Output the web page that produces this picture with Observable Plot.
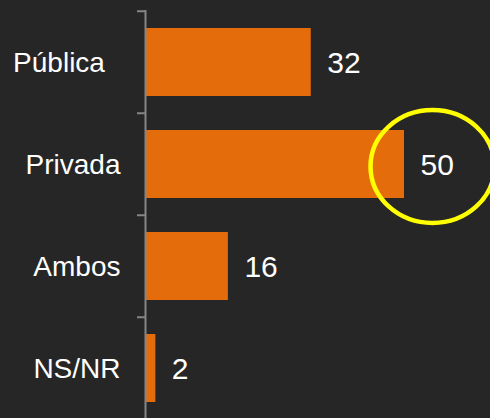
<!DOCTYPE html>
<html>
<head>
<meta charset="utf-8">
<script src="https://cdn.jsdelivr.net/npm/d3@7"></script>
<script src="https://cdn.jsdelivr.net/npm/@observablehq/plot@0.6"></script>
<style>
  html, body { margin: 0; padding: 0; background: #262626; }
  #chart svg { display: block; }
</style>
</head>
<body>
<div id="chart"></div>
<script>
// Data
const categories = ["Pública", "Privada", "Ambos", "NS/NR"];
const labels = ["Pública\u00a0\u00a0", "Privada", "Ambos", "NS/NR"];
const values = [32, 50, 16, 2];
const highlighted = ["Privada"];

const data = categories.map((c, i) => ({cat: c, label: labels[i], value: values[i]}));
const marked = data.filter(d => highlighted.includes(d.cat));

// Ellipse symbol for the highlight annotation
const ellipseSymbol = {
  draw(context, size) {
    const r = Math.sqrt(size / Math.PI);
    const rx = r * 1.047, ry = r * 0.954, k = 0.5523;
    context.moveTo(rx, 0);
    context.bezierCurveTo(rx, ry * k, rx * k, ry, 0, ry);
    context.bezierCurveTo(-rx * k, ry, -rx, ry * k, -rx, 0);
    context.bezierCurveTo(-rx, -ry * k, -rx * k, -ry, 0, -ry);
    context.bezierCurveTo(rx * k, -ry, rx, -ry * k, rx, 0);
    context.closePath();
  }
};

const step = (420 - 10) / categories.length;

const chart = Plot.plot({
  width: 490,
  height: 418,
  marginLeft: 145,
  marginRight: 87,
  marginTop: 10,
  marginBottom: 0,
  style: {background: "#262626", fontFamily: "'Liberation Sans', Arial, sans-serif"},
  x: {domain: [0, 50], range: [145, 404], axis: null},
  y: {domain: categories, range: [10, 420], paddingInner: 0.336, paddingOuter: 0.168, axis: null},
  marks: [
    Plot.barX(data, {x: "value", y: "cat", fill: "#E46C0A"}),
    Plot.ruleX([0], {stroke: "#868686", strokeWidth: 2}),
    Plot.ruleY(data, {y: "cat", x1: 0, x2: 0, insetLeft: -8, dy: -step / 2, stroke: "#868686", strokeWidth: 2}),
    Plot.text(data, {x: 0, y: "cat", text: "label", textAnchor: "end", dx: -25, dy: 1, fill: "#ffffff", fontSize: 28}),
    Plot.text(data, {x: "value", y: "cat", text: d => String(d.value), textAnchor: "start", dx: 16, dy: 1, fill: "#ffffff", fontSize: 30}),
    Plot.dot(marked, {x: "value", y: "cat", r: 59.2, symbol: ellipseSymbol, dx: 28, dy: 2, stroke: "#FFFF00", strokeWidth: 4.5, fill: "none"})
  ]
});
document.getElementById("chart").appendChild(chart);
</script>
</body>
</html>
